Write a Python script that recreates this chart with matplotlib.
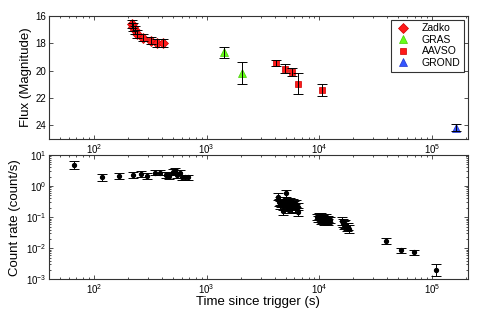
import numpy as np
import matplotlib
matplotlib.use("Agg")
import matplotlib.pyplot as plt
from matplotlib.ticker import LogLocator, FixedLocator, NullFormatter, NullLocator

plt.rcParams['font.family'] = ['Liberation Sans', 'DejaVu Sans']
plt.rcParams['mathtext.fontset'] = 'custom'
plt.rcParams['mathtext.rm'] = 'Liberation Sans'
plt.rcParams['mathtext.it'] = 'Liberation Sans'

# ---------------- Optical data (magnitudes) ----------------
zadko_t = [216, 224, 233, 239, 272, 318, 362, 407]
zadko_m = [16.6, 16.8, 17.0, 17.3, 17.6, 17.8, 18.0, 18.0]
zadko_e = [0.3, 0.3, 0.3, 0.3, 0.25, 0.25, 0.3, 0.3]

gras_t = [1416, 2075]
gras_m = [18.65, 20.15]
gras_e = [0.4, 0.8]

aavso_t = [4150, 4920, 5710, 6460, 10420]
aavso_m = [19.45, 19.85, 20.1, 20.95, 21.4]
aavso_e = [0.22, 0.35, 0.3, 0.75, 0.45]

grond_t = [162000]
grond_m = [24.18]
grond_e = [0.27]

# ---------------- X-ray data (count rate) ----------------
xrt_t = [66, 118, 167, 222, 260, 298, 346, 383, 432, 460, 502, 524, 545, 576, 608, 646, 682,
         4300, 4400, 4450, 4500, 4600, 4700, 4750, 4800, 4900, 5000, 5050, 5100, 5200,
         5300, 5350, 5450, 5500, 5600, 5700, 5800, 5900, 6000, 6100, 6200, 6400, 6500,
         9500, 9700, 9900, 10100, 10300, 10400, 10600, 10800, 11000, 11200, 11400, 11600,
         11800, 12000, 12300,
         15800, 16200, 16600, 17000, 17400, 17800, 18300,
         38700, 52600, 69000, 107000]
xrt_r = [4.8, 1.9, 2.1, 2.25, 2.45, 2.1, 2.7, 2.7, 2.25, 2.1, 2.9, 3.1, 2.25, 2.7, 1.9, 1.9, 1.9,
         0.45, 0.30, 0.25, 0.33, 0.27, 0.16, 0.22, 0.35, 0.28, 0.58, 0.24, 0.30, 0.21,
         0.27, 0.19, 0.32, 0.23, 0.26, 0.20, 0.29, 0.22, 0.25, 0.19, 0.27, 0.15, 0.22,
         0.10, 0.085, 0.11, 0.09, 0.075, 0.105, 0.08, 0.095, 0.07, 0.088, 0.10, 0.075,
         0.085, 0.068, 0.08,
         0.075, 0.065, 0.055, 0.06, 0.048, 0.05, 0.042,
         0.0175, 0.0087, 0.0074, 0.002]
# error half-widths in dex
xrt_edex = [0.13, 0.1, 0.1, 0.1, 0.1, 0.1, 0.09, 0.09, 0.09, 0.09, 0.09, 0.09, 0.09, 0.09, 0.09, 0.09, 0.09,
            0.11, 0.12, 0.12, 0.12, 0.12, 0.13, 0.12, 0.11, 0.12, 0.1, 0.12, 0.12, 0.12,
            0.12, 0.13, 0.12, 0.12, 0.12, 0.12, 0.12, 0.12, 0.12, 0.13, 0.12, 0.13, 0.12,
            0.1, 0.1, 0.1, 0.1, 0.1, 0.1, 0.1, 0.1, 0.1, 0.1, 0.1, 0.1,
            0.1, 0.1, 0.1,
            0.12, 0.12, 0.12, 0.12, 0.12, 0.12, 0.12,
            0.1, 0.08, 0.08, 0.18]

fig = plt.figure(figsize=(4.91, 3.11), dpi=100)
W, H = 491, 311
ax1 = fig.add_axes([49 / W, 1 - 139 / H, 418.7 / W, 123 / H])
ax2 = fig.add_axes([49 / W, 1 - 279.3 / H, 418.7 / W, 124.3 / H])

spine_c = '#333333'
for ax in (ax1, ax2):
    ax.set_xscale('log')
    ax.set_xlim(40, 2.06e5)
    for s in ax.spines.values():
        s.set_color(spine_c)
        s.set_linewidth(0.8)
    ax.tick_params(which='both', direction='in', top=True, right=True, colors=spine_c,
                   labelcolor='black', labelsize=7)
    ax.tick_params(which='major', length=3, width=0.6)
    ax.tick_params(which='minor', length=1.6, width=0.6)
    ax.tick_params(axis='x', pad=2)
    ax.tick_params(axis='y', pad=2)
    ax.xaxis.set_major_locator(LogLocator(base=10, numticks=10))
    ax.xaxis.set_minor_locator(LogLocator(base=10, subs=np.arange(2, 10), numticks=20))
    ax.xaxis.set_minor_formatter(NullFormatter())

# ---- top panel ----
ax1.set_ylim(25, 16)
ax1.yaxis.set_major_locator(FixedLocator([16, 18, 20, 22, 24]))
ax1.yaxis.set_minor_locator(NullLocator())

eb_kw = dict(fmt='none', ecolor='black', elinewidth=0.7, capsize=3.5, capthick=0.7, zorder=4)
ax1.errorbar(zadko_t, zadko_m, yerr=zadko_e, **eb_kw)
ax1.errorbar(gras_t, gras_m, yerr=gras_e, **eb_kw)
ax1.errorbar(aavso_t, aavso_m, yerr=aavso_e, **eb_kw)
ax1.errorbar(grond_t, grond_m, yerr=grond_e, **eb_kw)

ax1.plot(zadko_t, zadko_m, 'D', color='#ff1a1a', mec='#cc0000', mew=0.5, ms=4.8, ls='none', zorder=3, label='Zadko')
ax1.plot(gras_t, gras_m, '^', color='#66ff1a', mec='#44cc00', mew=0.5, ms=5.2, ls='none', zorder=3, label='GRAS')
ax1.plot(aavso_t, aavso_m, 's', color='#ff1a1a', mec='#cc0000', mew=0.5, ms=4.8, ls='none', zorder=3, label='AAVSO')
ax1.plot(grond_t, grond_m, '^', color='#3355ff', mec='#2233cc', mew=0.5, ms=5.2, ls='none', zorder=3, label='GROND')

ax1.set_ylabel('Flux (Magnitude)', fontsize=9.5)
ax1.yaxis.set_label_coords(-0.040, 0.5)
leg = ax1.legend(loc='upper right', fontsize=7.5, frameon=True, fancybox=False,
                 edgecolor='black', borderpad=0.35, handletextpad=1.0, labelspacing=0.15,
                 handlelength=1.6, borderaxespad=0.35)
leg.get_frame().set_linewidth(0.8)

# ---- bottom panel ----
ax2.set_yscale('log')
ax2.set_ylim(1e-3, 10)
ax2.yaxis.set_major_locator(LogLocator(base=10, numticks=10))
ax2.yaxis.set_minor_locator(LogLocator(base=10, subs=np.arange(2, 10), numticks=20))
ax2.yaxis.set_minor_formatter(NullFormatter())

r = np.array(xrt_r)
ed = np.array(xrt_edex)
lo = r - r / 10 ** ed
hi = r * 10 ** ed - r
ax2.errorbar(xrt_t, r, yerr=[lo, hi], fmt='o', color='black', ms=2.8, ecolor='black',
             elinewidth=0.7, capsize=3.5, capthick=0.7)
ax2.set_ylabel('Count rate (count/s)', fontsize=9.5)
ax2.yaxis.set_label_coords(-0.068, 0.5)
ax2.set_xlabel('Time since trigger (s)', fontsize=9.5)
ax2.xaxis.set_label_coords(0.5, -0.135)

fig.savefig('out.png', dpi=100)
